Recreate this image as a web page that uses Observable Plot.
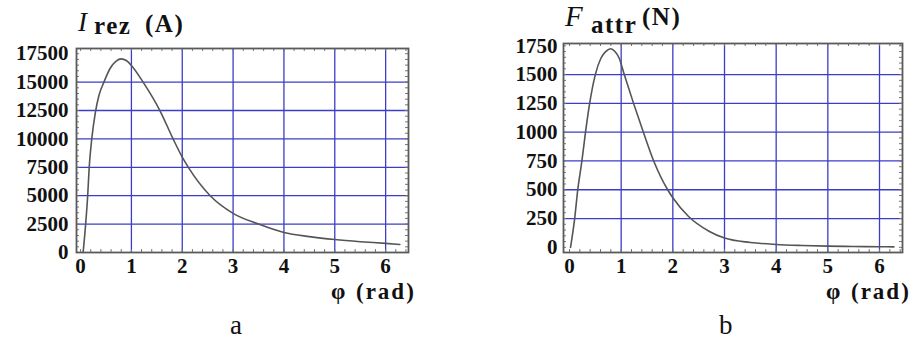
<!DOCTYPE html>
<html>
<head>
<meta charset="utf-8">
<script src="https://cdn.jsdelivr.net/npm/d3@7"></script>
<script src="https://cdn.jsdelivr.net/npm/@observablehq/plot@0.6"></script>
<style>
  html, body { margin: 0; padding: 0; background: #fff; }
  #wrap { position: relative; width: 911px; height: 342px; overflow: hidden; color: #111; }
  .abs { position: absolute; white-space: nowrap; font-family: 'Liberation Serif' !important; }
  .it { font-style: italic; font-size: 27px; line-height: 27px; }
  .itF { font-style: italic; font-size: 29px; line-height: 29px; }
  .bd { font-weight: bold; font-size: 25px; line-height: 25px; letter-spacing: 1.5px; }
  .xl { font-weight: bold; font-size: 23px; line-height: 23px; letter-spacing: 2px; }
  .cap { font-size: 27px; line-height: 27px; }
  #wrap svg text { font-family: 'Liberation Serif' !important; font-weight: bold; }
</style>
</head>
<body>
<div id="wrap"></div>
<script>
// ---- Data: chart a (I_rez, A, versus phi, rad) ----
const phiA = [0.05, 0.10, 0.14, 0.17, 0.22, 0.29, 0.36, 0.46, 0.58, 0.70, 0.80, 0.90, 1.00, 1.23, 1.56, 1.82, 2.00, 2.12, 2.55, 3.00, 3.50, 4.00, 4.50, 5.00, 5.50, 6.00, 6.28];
const IrezA = [0, 2500, 5000, 7500, 10000, 12300, 13800, 15000, 16200, 16850, 17050, 16900, 16470, 15000, 12500, 10000, 8400, 7500, 5000, 3450, 2500, 1760, 1400, 1140, 950, 800, 700];
const yTicksA = [0, 2500, 5000, 7500, 10000, 12500, 15000, 17500];
const yGridA = [2500, 5000, 7500, 10000, 12500, 15000];

// ---- Data: chart b (F_attr, N, versus phi, rad) ----
const phiB = [0.02, 0.10, 0.16, 0.24, 0.31, 0.39, 0.50, 0.61, 0.70, 0.80, 0.88, 0.96, 1.06, 1.24, 1.43, 1.63, 1.90, 2.00, 2.30, 2.70, 3.00, 3.50, 4.00, 4.50, 5.00, 5.50, 6.00, 6.28];
const FattrB = [0, 250, 500, 750, 1000, 1250, 1500, 1644, 1700, 1725, 1700, 1644, 1500, 1250, 1000, 750, 500, 430, 270, 140, 80, 42, 25, 16, 10, 7, 5, 4];
const yTicksB = [0, 250, 500, 750, 1000, 1250, 1500, 1750];
const yGridB = [250, 500, 750, 1000, 1250, 1500];

const xTicks = [0, 1, 2, 3, 4, 5, 6];
const xGrid = [1, 2, 3, 4, 5, 6];
const xMinor = d3.range(0, 6.45, 0.2);

const gridColor = "#3c3cc8";
const curveColor = "#555";
const frameColor = "#5a5a5a";
const FONT = "Liberation Serif";

function makeChart({xs, ys, xDomain, yDomain, yTicks, yGrid, yMinorStep, width, height, margins, tickPad}) {
  const data = xs.map((x, i) => ({x, y: ys[i]}));
  const yMinor = d3.range(Math.ceil(yDomain[0] / yMinorStep) * yMinorStep, yDomain[1], yMinorStep);
  const fh = height - margins.top - margins.bottom;
  const fw = width - margins.left - margins.right;
  return Plot.plot({
    width, height,
    marginTop: margins.top, marginBottom: margins.bottom,
    marginLeft: margins.left, marginRight: margins.right,
    style: {fontFamily: FONT, fontSize: "21px", fontWeight: "bold", color: "#111", background: "transparent"},
    x: {domain: xDomain},
    y: {domain: yDomain},
    marks: [
      Plot.ruleX(xGrid, {stroke: gridColor, strokeWidth: 1.3}),
      Plot.ruleY(yGrid, {stroke: gridColor, strokeWidth: 1.3}),
      Plot.tickX(xMinor, {x: d => d, insetTop: fh - 3, stroke: "#777", strokeWidth: 1}),
      Plot.tickX(xMinor, {x: d => d, insetBottom: fh - 3, stroke: "#777", strokeWidth: 1}),
      Plot.tickY(yMinor, {y: d => d, insetRight: fw - 3, stroke: "#777", strokeWidth: 1}),
      Plot.tickY(yMinor, {y: d => d, insetLeft: fw - 3, stroke: "#777", strokeWidth: 1}),
      Plot.line(data, {x: "x", y: "y", stroke: curveColor, strokeWidth: 1.6, curve: "monotone-x"}),
      Plot.frame({stroke: frameColor, strokeWidth: 1.8}),
      Plot.axisX({ticks: xTicks, tickSize: 0, tickPadding: 6, label: null, tickFormat: d => String(d),
                  fontFamily: FONT, fontWeight: "bold", fontSize: 21, fill: "#111"}),
      Plot.axisY({ticks: yTicks, tickSize: 0, tickPadding: tickPad, label: null, tickFormat: d => String(d),
                  fontFamily: FONT, fontWeight: "bold", fontSize: 21, fill: "#111"})
    ]
  });
}

const wrap = document.getElementById("wrap");

const chartA = makeChart({
  xs: phiA, ys: IrezA,
  xDomain: [-0.08, 6.45], yDomain: [0, 17960],
  yTicks: yTicksA, yGrid: yGridA, yMinorStep: 500,
  width: 430, height: 292,
  margins: {top: 48, bottom: 40, left: 76, right: 22},
  tickPad: 8
});
chartA.style.position = "absolute"; chartA.style.left = "0px"; chartA.style.top = "0px";
wrap.appendChild(chartA);

const chartB = makeChart({
  xs: phiB, ys: FattrB,
  xDomain: [-0.116, 6.445], yDomain: [-45, 1770],
  yTicks: yTicksB, yGrid: yGridB, yMinorStep: 50,
  width: 431, height: 292,
  margins: {top: 43, bottom: 40, left: 83, right: 9},
  tickPad: 6
});
chartB.style.position = "absolute"; chartB.style.left = "480px"; chartB.style.top = "0px";
wrap.appendChild(chartB);

// Titles, axis labels, captions (real text); top = baseline - 0.8375 * fontSize
function addText(text, cls, left, baseline, size) {
  const d = document.createElement("div");
  d.className = "abs " + cls;
  d.style.left = left + "px";
  d.style.top = (baseline - 0.8375 * size) + "px";
  d.textContent = text;
  wrap.appendChild(d);
}
addText("I", "it", 78, 32, 27);
addText("rez", "bd", 94, 34.3, 25);
addText("(A)", "bd", 145, 32, 25);
addText("F", "itF", 565, 26, 29);
addText("attr", "bd", 591, 33, 25);
addText("(N)", "bd", 642, 25, 25);
addText("φ", "xl", 331, 299, 23);
addText("(rad)", "xl", 356, 299, 23);
addText("φ", "xl", 826, 299, 23);
addText("(rad)", "xl", 851, 299, 23);
addText("a", "cap", 230, 335, 27);
addText("b", "cap", 719, 335, 27);
</script>
</body>
</html>
